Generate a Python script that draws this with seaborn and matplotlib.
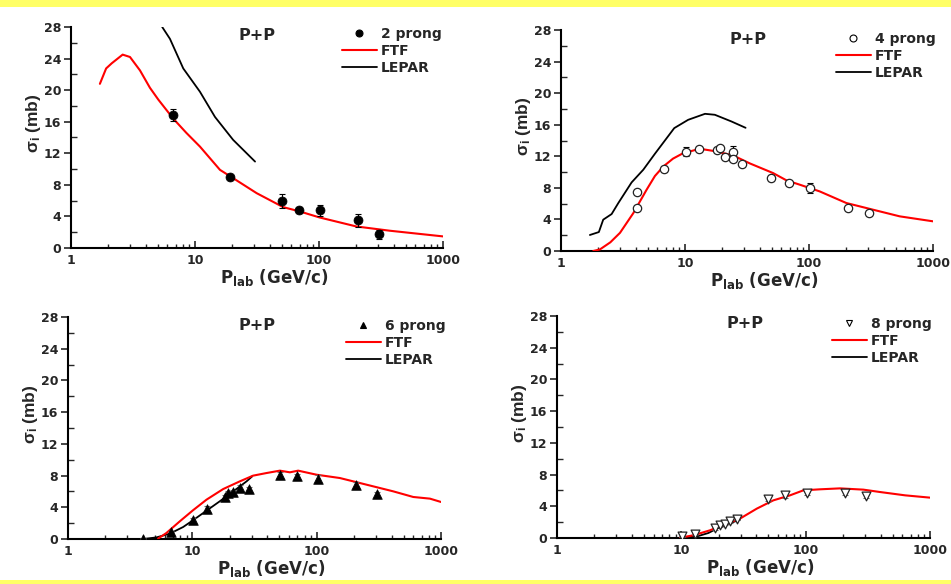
import matplotlib
matplotlib.use("Agg")
import matplotlib.pyplot as plt
import matplotlib.ticker as mticker
from matplotlib.lines import Line2D
from matplotlib.patches import Rectangle
import numpy as np
import pandas as pd
import seaborn as sns

# ---------------- data ----------------
# 2 prong
p2_x = [6.6, 19.0, 50.0, 69.0, 102.0, 205.0, 303.0]
p2_y = [16.85, 9.05, 5.94, 4.84, 4.76, 3.5, 1.72]
p2_err = [0.72, 0.25, 0.88, 0.35, 0.67, 0.84, 0.6]
ftf2_x = [1.71, 1.92, 2.13, 2.61, 2.99, 3.6, 4.33, 5.06, 6.67, 8.5, 10.96, 15.9,
          20.3, 31.4, 51.4, 70, 101, 200, 372, 1000]
ftf2_y = [20.8, 22.75, 23.4, 24.5, 24.2, 22.5, 20.3, 18.8, 16.4, 14.6, 12.85, 9.9,
          8.85, 6.95, 5.18, 4.63, 3.87, 2.73, 2.19, 1.47]
lep2_x = [5.44, 6.28, 8.04, 10.96, 14.5, 20.3, 30.5]
lep2_y = [28.0, 26.5, 22.75, 19.8, 16.6, 13.7, 10.95]

# 4 prong
p4_x = [4.07, 4.07, 6.72, 10.1, 12.9, 18.1, 19.2, 21.2, 24.2, 24.2, 28.6, 49.8,
        68.8, 102.7, 206.7, 305]
p4_y = [7.43, 5.44, 10.38, 12.6, 12.9, 12.74, 13.1, 11.9, 12.5, 11.65, 11.0, 9.24,
        8.57, 7.97, 5.44, 4.77]
p4_err = [0.2, 0.2, 0.35, 0.6, 0.3, 0.25, 0.2, 0.2, 0.8, 0.3, 0.25, 0.35,
          0.25, 0.6, 0.25, 0.25]
ftf4_x = [1.82, 2.06, 2.5, 2.99, 3.83, 4.9, 5.72, 6.68, 8.0, 9.68, 13.2, 17.4,
          24.5, 33.3, 51.4, 65.8, 84.3, 122, 200, 329, 539, 1000]
ftf4_y = [0.0, 0.2, 1.1, 2.3, 4.8, 7.76, 9.5, 10.7, 11.7, 12.4, 12.95, 12.65,
          12.1, 11.1, 9.87, 8.95, 8.4, 7.55, 6.08, 5.23, 4.39, 3.76]
lep4_x = [1.71, 2.02, 2.19, 2.56, 2.9, 3.71, 4.61, 5.72, 8.19, 10.6, 14.5, 17.4,
          23.7, 30.8]
lep4_y = [2.03, 2.4, 3.97, 4.68, 6.08, 8.69, 10.3, 12.32, 15.57, 16.62, 17.38,
          17.26, 16.41, 15.61]

# 6 prong
p6_x = [4.02, 6.79, 10.1, 13.0, 18.2, 19.4, 21.3, 24.1, 28.6, 50.6, 68.9, 102.9,
        205.6, 303]
p6_y = [0.05, 0.84, 2.44, 3.83, 5.3, 5.8, 5.93, 6.43, 6.3, 8.03, 7.9, 7.6, 6.85, 5.63]
p6_err = [0.05, 0.2, 0.25, 0.3, 0.3, 0.3, 0.3, 0.35, 0.3, 0.4, 0.3, 0.45, 0.35, 0.3]
ftf6_x = [5.3, 6.19, 7.93, 10.1, 13.0, 17.7, 24.1, 30.8, 39.5, 50.6, 60.9, 71.0,
          99.7, 153.7, 252, 413, 598, 815, 1000]
ftf6_y = [0.05, 0.76, 2.23, 3.61, 4.96, 6.3, 7.27, 7.99, 8.32, 8.62, 8.41, 8.62,
          8.11, 7.69, 6.85, 6.01, 5.3, 5.09, 4.67]
lep6_x = [4.02, 5.14, 6.58, 8.43, 10.1, 13.0, 16.6, 21.3, 27.3, 30.3]
lep6_y = [0.0, 0.2, 0.67, 1.51, 2.35, 3.57, 4.75, 6.0, 7.27, 7.9]

# 8 prong
p8_x = [10.1, 12.9, 18.7, 20.5, 22.5, 24.6, 27.9, 50.0, 68.2, 101.9, 207, 304]
p8_y = [0.21, 0.55, 1.26, 1.6, 1.81, 2.14, 2.44, 4.96, 5.38, 5.67, 5.67, 5.3]
p8_err = [0.1, 0.15, 0.2, 0.2, 0.2, 0.2, 0.2, 0.25, 0.3, 0.3, 0.25, 0.25]
ftf8_x = [9.76, 12.5, 17.0, 23.2, 29.6, 40.4, 55, 74.8, 95.8, 130, 189, 291, 396,
          631, 1000]
ftf8_y = [0.04, 0.34, 0.97, 1.81, 2.44, 3.7, 4.75, 5.38, 6.01, 6.14, 6.26, 6.1, 5.8,
          5.38, 5.09]
lep8_x = [10.7, 13.7, 16.5, 19.8, 23.9, 29.6]
lep8_y = [0.04, 0.25, 0.63, 1.26, 1.81, 2.3]

y_ticks = [0, 4, 8, 12, 16, 20, 24, 28]
x_ticks = [1, 10, 100, 1000]
x_tick_labels = ["1", "10", "100", "1000"]

# ---------------- style ----------------
sns.set_style("ticks")
FONT = "DejaVu Sans"
NARROW = "Liberation Sans"
plt.rcParams["font.family"] = [FONT]
plt.rcParams["font.weight"] = "bold"
plt.rcParams["mathtext.fontset"] = "custom"
plt.rcParams["mathtext.rm"] = FONT + ":bold"
plt.rcParams["mathtext.it"] = FONT + ":bold"
plt.rcParams["mathtext.bf"] = FONT + ":bold"
plt.rcParams["mathtext.default"] = "regular"

W, H = 951, 584
fig = plt.figure(figsize=(W / 100, H / 100), dpi=100)
fig.patch.set_facecolor("white")

# yellow bands along top and bottom edges
fig.add_artist(Rectangle((0, 1 - 7 / H), 1, 7 / H, transform=fig.transFigure,
                         facecolor="#FFFF66", edgecolor="none", zorder=0))
fig.add_artist(Rectangle((0, 0), 1, 4 / H, transform=fig.transFigure,
                         facecolor="#FFFF66", edgecolor="none", zorder=0))


def px(x, y):
    return x / W, 1 - y / H


panels = [
    dict(box=(71, 27, 443, 248), px_=p2_x, py_=p2_y, pe=p2_err, fx=ftf2_x, fy=ftf2_y,
         lx=lep2_x, ly=lep2_y, marker="o", filled=True, size=42, label="2 prong",
         title=(257, 35), leg=(342, 27), ecol="black"),
    dict(box=(561, 30, 933, 251), px_=p4_x, py_=p4_y, pe=p4_err, fx=ftf4_x, fy=ftf4_y,
         lx=lep4_x, ly=lep4_y, marker="o", filled=False, size=36, label="4 prong",
         title=(748, 40), leg=(836, 32), ecol="black"),
    dict(box=(68, 317, 441, 539), px_=p6_x, py_=p6_y, pe=p6_err, fx=ftf6_x, fy=ftf6_y,
         lx=lep6_x, ly=lep6_y, marker="^", filled=True, size=48, label="6 prong",
         title=(257, 326), leg=(346, 319), ecol="dimgray"),
    dict(box=(557, 316, 930, 538), px_=p8_x, py_=p8_y, pe=p8_err, fx=ftf8_x, fy=ftf8_y,
         lx=lep8_x, ly=lep8_y, marker="v", filled=False, size=40, label="8 prong",
         title=(745, 324), leg=(832, 317), ecol="dimgray"),
]

for p in panels:
    x0, y0, x1, y1 = p["box"]
    aw, ah = x1 - x0, y1 - y0
    ax = fig.add_axes([x0 / W, 1 - y1 / H, aw / W, ah / H])
    ax.set_facecolor("none")

    ftf = pd.DataFrame({"p": p["fx"], "s": p["fy"]})
    lep = pd.DataFrame({"p": p["lx"], "s": p["ly"]})
    pts = pd.DataFrame({"p": p["px_"], "s": p["py_"], "e": p["pe"]})

    sns.lineplot(data=lep, x="p", y="s", ax=ax, color="black", lw=1.3,
                 estimator=None, sort=False, zorder=2)
    sns.lineplot(data=ftf, x="p", y="s", ax=ax, color="#FF0000", lw=1.5,
                 estimator=None, sort=False, zorder=3)
    ax.errorbar(pts["p"], pts["s"], yerr=pts["e"], fmt="none", ecolor=p["ecol"],
                elinewidth=0.8, capsize=2.5, capthick=0.8, zorder=4)
    if p["filled"]:
        sns.scatterplot(data=pts, x="p", y="s", ax=ax, marker=p["marker"],
                        color="black", edgecolor="black", s=p["size"],
                        linewidth=0.5, zorder=5)
    else:
        sns.scatterplot(data=pts, x="p", y="s", ax=ax, marker=p["marker"],
                        facecolor="white", edgecolor="#222222", s=p["size"],
                        linewidth=0.9, zorder=5)

    ax.set_xscale("log")
    ax.set_xlim(1, 1000)
    ax.set_ylim(0, 28)
    ax.set_xticks(x_ticks)
    ax.set_xticklabels(x_tick_labels)
    ax.xaxis.set_minor_locator(mticker.LogLocator(base=10, subs=np.arange(2, 10)))
    ax.xaxis.set_minor_formatter(mticker.NullFormatter())
    ax.set_yticks(y_ticks)
    ax.yaxis.set_minor_locator(mticker.MultipleLocator(2))

    for side in ("top", "right"):
        ax.spines[side].set_visible(False)
    for side in ("left", "bottom"):
        ax.spines[side].set_linewidth(1.5)
        ax.spines[side].set_color("black")

    ax.tick_params(axis="y", which="major", direction="out", length=5, width=1.2,
                   pad=2, labelsize=9)
    ax.tick_params(axis="y", which="minor", direction="in", length=4, width=1.0)
    ax.tick_params(axis="x", which="major", direction="in", length=5, width=1.2,
                   pad=4, labelsize=9)
    ax.tick_params(axis="x", which="minor", direction="in", length=3, width=1.0)
    for lab in ax.get_xticklabels() + ax.get_yticklabels():
        lab.set_fontweight("bold")

    ax.set_xlabel(r"P$_{lab}$ (GeV/c)", fontsize=12, fontweight="bold")
    ax.xaxis.set_label_coords((aw / 2 + 17) / aw, -19 / ah)
    ax.set_ylabel(r"σ$_{i}$ (mb)", fontsize=12.5, fontweight="bold",
                  fontfamily=NARROW)
    ax.yaxis.set_label_coords(-28 / aw, (ah / 2 + 14) / ah)

    tx, ty = px(*p["title"])
    fig.text(tx, ty, "P+P", fontsize=11.5, fontweight="bold", ha="center", va="center")

    handles = [
        Line2D([], [], ls="none", marker=p["marker"], ms=5,
               mfc="black" if p["filled"] else "white", mec="black", mew=0.8),
        Line2D([], [], color="#FF0000", lw=1.5),
        Line2D([], [], color="black", lw=1.3),
    ]
    lx, ly = px(*p["leg"])
    leg = ax.legend(handles, [p["label"], "FTF", "LEPAR"], loc="upper left",
                    bbox_to_anchor=(lx, ly), bbox_transform=fig.transFigure,
                    frameon=False, borderpad=0, borderaxespad=0, handlelength=2.5,
                    handletextpad=0.3, labelspacing=0.2,
                    prop=dict(family=FONT, weight="bold", size=10))

fig.savefig("out.png", dpi=100)
